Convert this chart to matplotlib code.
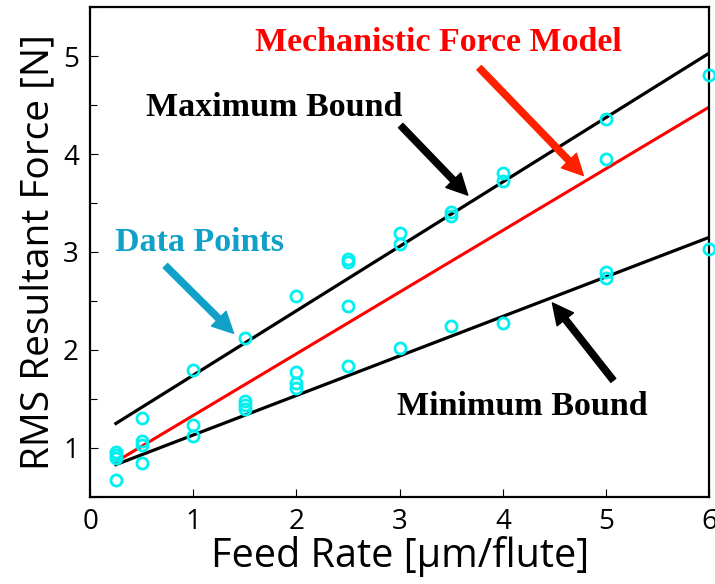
import numpy as np
import matplotlib
matplotlib.use("Agg")
import matplotlib.pyplot as plt
from matplotlib.ticker import MultipleLocator

# measured RMS resultant force vs. feed rate
feed = [0.25, 0.25, 0.25, 0.25,
        0.5, 0.5, 0.5, 0.5,
        1.0, 1.0, 1.0,
        1.5, 1.5, 1.5, 1.5,
        2.0, 2.0, 2.0, 2.0,
        2.5, 2.5, 2.5, 2.5,
        3.0, 3.0, 3.0,
        3.5, 3.5, 3.5,
        4.0, 4.0, 4.0,
        5.0, 5.0, 5.0, 5.0,
        6.0, 6.0]
force = [0.96, 0.93, 0.90, 0.67,
         1.31, 1.07, 1.03, 0.85,
         1.80, 1.23, 1.12,
         2.12, 1.48, 1.44, 1.40,
         2.55, 1.78, 1.66, 1.61,
         2.93, 2.90, 2.45, 1.84,
         3.19, 3.08, 2.02,
         3.41, 3.37, 2.24,
         3.81, 3.72, 2.28,
         4.36, 3.95, 2.80, 2.73,
         4.81, 3.03]

# model line and bounds, evaluated at the ends of the feed range
line_x = [0.25, 6.0]
model_y = [0.86, 4.48]
max_y = [1.25, 5.03]
min_y = [0.83, 3.15]

fig = plt.figure(figsize=(7.15, 5.84), dpi=100)
ax = fig.add_axes([0.126, 0.149, 0.866, 0.839])

ax.plot(line_x, max_y, color="black", lw=2.3, zorder=2)
ax.plot(line_x, model_y, color="#ff0000", lw=2.2, zorder=2)
ax.plot(line_x, min_y, color="black", lw=2.3, zorder=2)
ax.plot(feed, force, "o", ms=8, mfc="none", mec="#00f0f0", mew=2.0,
        zorder=3, clip_on=False)

ax.set_xlim(0, 6)
ax.set_ylim(0.5, 5.5)
ax.xaxis.set_major_locator(MultipleLocator(1))
ax.yaxis.set_major_locator(MultipleLocator(1))
ax.yaxis.set_minor_locator(MultipleLocator(0.5))
ax.tick_params(direction="in", length=6, width=0.8, labelsize=20,
               top=False, right=False, pad=8)
ax.tick_params(which="minor", direction="in", length=5, width=0.8)
for lab in ax.get_xticklabels() + ax.get_yticklabels():
    lab.set_fontfamily("Open Sans")
for sp in ax.spines.values():
    sp.set_linewidth(1.6)

ax.set_xlabel("Feed Rate [\u03bcm/flute]", fontsize=28.5, family="Open Sans",
              labelpad=0)
ax.set_ylabel("RMS Resultant Force [N]", fontsize=28, family="Open Sans",
              labelpad=4)

serif = dict(family="Liberation Serif", weight="bold", fontsize=24.5,
             ha="center", va="center")


def arrow(color, tail, tip):
    ax.annotate("", xy=tip, xytext=tail,
                arrowprops=dict(facecolor=color, edgecolor=color, width=4.5,
                                headwidth=15, headlength=15, shrink=0))


ax.text(3.38, 5.14, "Mechanistic Force Model", color="#ff0000", **serif)
arrow("#ff2000", (3.77, 4.88), (4.78, 3.78))

ax.text(1.78, 4.47, "Maximum Bound", color="black", **serif)
arrow("black", (3.01, 4.29), (3.66, 3.58))

ax.text(1.06, 3.10, "Data Points", color="#10a0c8", **serif)
arrow("#10a0c8", (0.73, 2.86), (1.39, 2.17))

ax.text(4.19, 1.42, "Minimum Bound", color="black", **serif)
arrow("black", (5.07, 1.69), (4.48, 2.48))

fig.savefig("out.png", dpi=100)
